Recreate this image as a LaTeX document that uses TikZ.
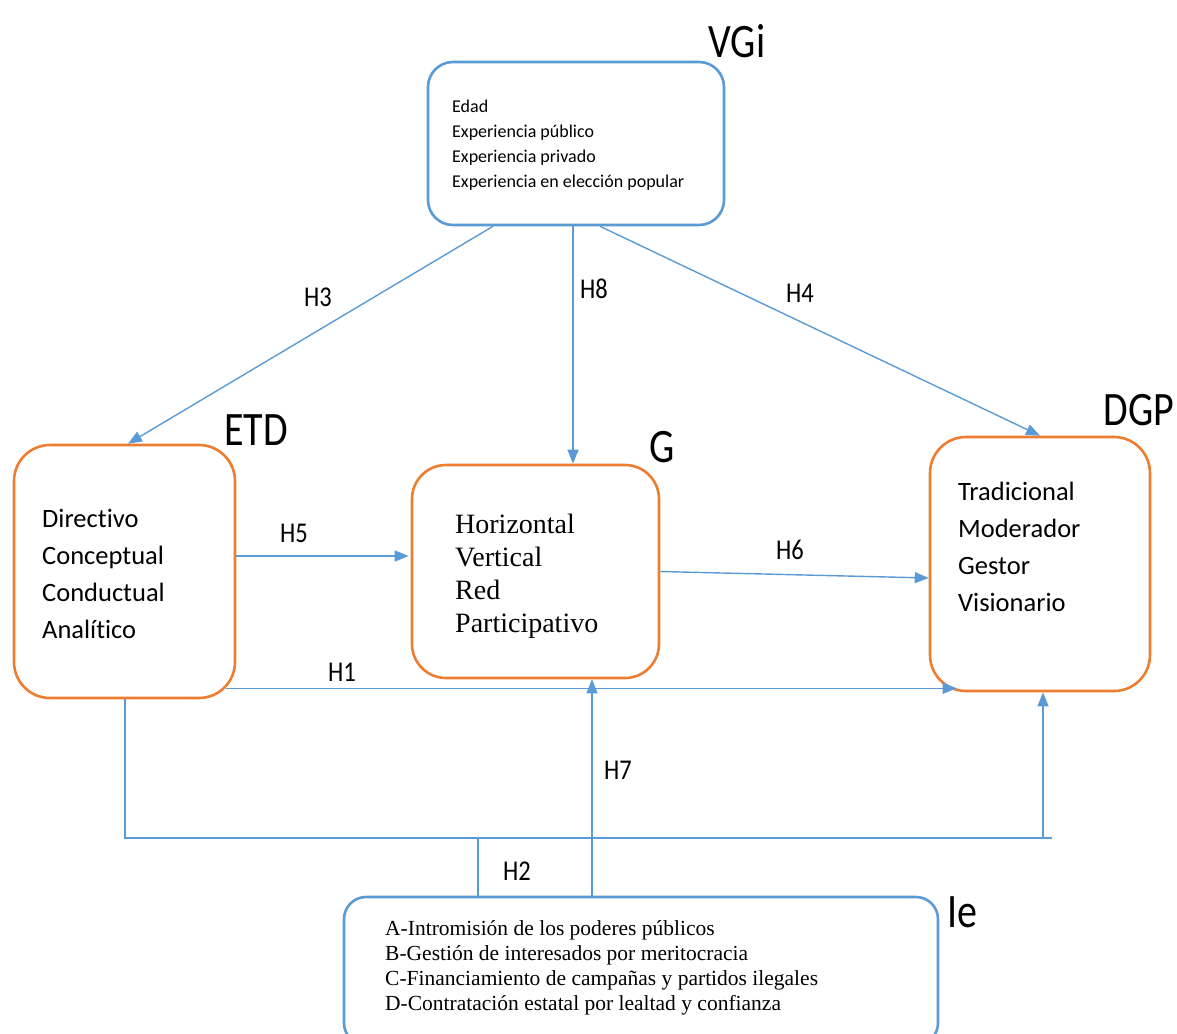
\documentclass[tikz,border=0pt]{standalone}
\usepackage{fontspec}
\usepackage{graphicx}
\newfontfamily\calib[Ligatures=NoCommon]{Carlito}
\newfontfamily\tnr{Liberation Serif}
\usetikzlibrary{arrows.meta,calc}
\definecolor{lineblue}{HTML}{5B9BD5}
\definecolor{boxorange}{HTML}{ED7D31}
% tall, slightly condensed lettering for names and hypothesis labels
\newcommand{\tallname}[1]{\scalebox{1}[1.2]{#1}}
\newcommand{\talllabel}[1]{\scalebox{1}[1.17]{#1}}

\begin{document}
\begin{tikzpicture}[x=1pt,y=-1pt,
  boxbase/.style={draw, line width=2.6pt, fill=white, inner sep=0pt},
  bluebox/.style={boxbase, draw=lineblue, rounded corners=25pt},
  orangebox/.style={boxbase, draw=boxorange, rounded corners=36pt},
  link/.style={draw=lineblue, line width=1.4pt},
  arr/.style={link, -{Triangle[length=14pt,width=11pt]}},
  hlabel/.style={font=\calib\fontsize{24.5}{28}\selectfont, inner sep=0pt},
  title/.style={font=\calib\fontsize{40}{44}\selectfont, inner sep=0pt},
  listtext/.style={anchor=north west, inner sep=0pt, align=left}
]
\useasboundingbox (0,0) rectangle (1177,1033);

% boxes
\node[bluebox, minimum width=296pt, minimum height=163pt] (vgi) at (576,143.5) {};
\node[orangebox, minimum width=221pt, minimum height=253pt] (etd) at (124.5,571.5) {};
\node[orangebox, rounded corners=34pt, minimum width=247pt, minimum height=213pt] (g) at (535.5,571.5) {};
\node[orangebox, minimum width=220pt, minimum height=254pt] (dgp) at (1040,564) {};
\node[bluebox, rounded corners=22pt, minimum width=594pt, minimum height=148pt] (ie) at (641,971) {};

% box contents
\node[listtext, font=\calib\fontsize{18}{25}\selectfont] (vgitext) at (452,100)
  {Edad\\Experiencia público\\Experiencia privado\\Experiencia en elección popular};
\node[listtext, font=\calib\fontsize{26.5}{37}\selectfont] (etdtext) at (42,509)
  {Directivo\\Conceptual\\Conductual\\Analítico};
\node[listtext, font=\tnr\fontsize{28}{33}\selectfont] (gtext) at (455,514)
  {Horizontal\\Vertical\\Red\\Participativo};
\node[listtext, font=\calib\fontsize{26.5}{37}\selectfont] (dgptext) at (958,482)
  {Tradicional\\Moderador\\Gestor\\Visionario};
\node[listtext, font=\tnr\fontsize{21.5}{25}\selectfont] (ietext) at (385,920)
  {A-Intromisión de los poderes públicos\\B-Gestión de interesados por meritocracia\\C-Financiamiento de campañas y partidos ilegales\\D-Contratación estatal por lealtad y confianza};

% construct names
\node[title] (vginame) at (737,41) {\tallname{VGi}};
\node[title] (etdname) at (256,430) {\tallname{ETD}};
\node[title] (gname) at (662,447) {\tallname{G}};
\node[title] (dgpname) at (1139,410) {\tallname{DGP}};
\node[title] (iename) at (962,912) {\tallname{Ie}};

% hypotheses
\draw[arr] ([xshift=-83pt]vgi.south) -- ([xshift=3.5pt]etd.north);
\draw[arr] ([xshift=-3pt]vgi.south) -- ([xshift=37.5pt]g.north);
\draw[arr] ([xshift=24pt]vgi.south) -- (dgp.north);
\draw[arr] ([yshift=15.5pt]etd.east) -- ([yshift=15.5pt,xshift=-2pt]g.west);
\draw[arr] (g.east) -- ([yshift=-14pt]dgp.west);
\draw[arr] ($(etd.south east)+(-10,-11)$) -- ($(dgp.south west)+(28,-4)$);
\draw[arr] ([xshift=-49pt]ie.north) -- ([xshift=56.5pt]g.south);

% H2 moderating bus
\coordinate (buswest) at (125,838);
\coordinate (buseast) at (1052,838);
\draw[link] ([xshift=0.5pt]etd.south) -- (buswest) -- (buseast);
\draw[link] ([xshift=-163pt]ie.north) -- (478,838);
\draw[arr] (1043,838) -- ([xshift=3pt]dgp.south);

% hypothesis labels
\node[hlabel] (h3) at (318,297) {\talllabel{H3}};
\node[hlabel] (h8) at (594,289) {\talllabel{H8}};
\node[hlabel] (h4) at (800,293) {\talllabel{H4}};
\node[hlabel] (h5) at (294,533) {\talllabel{H5}};
\node[hlabel] (h6) at (790,550) {\talllabel{H6}};
\node[hlabel] (h1) at (342,672) {\talllabel{H1}};
\node[hlabel] (h7) at (618,770) {\talllabel{H7}};
\node[hlabel] (h2) at (517,871) {\talllabel{H2}};
\end{tikzpicture}
\end{document}
